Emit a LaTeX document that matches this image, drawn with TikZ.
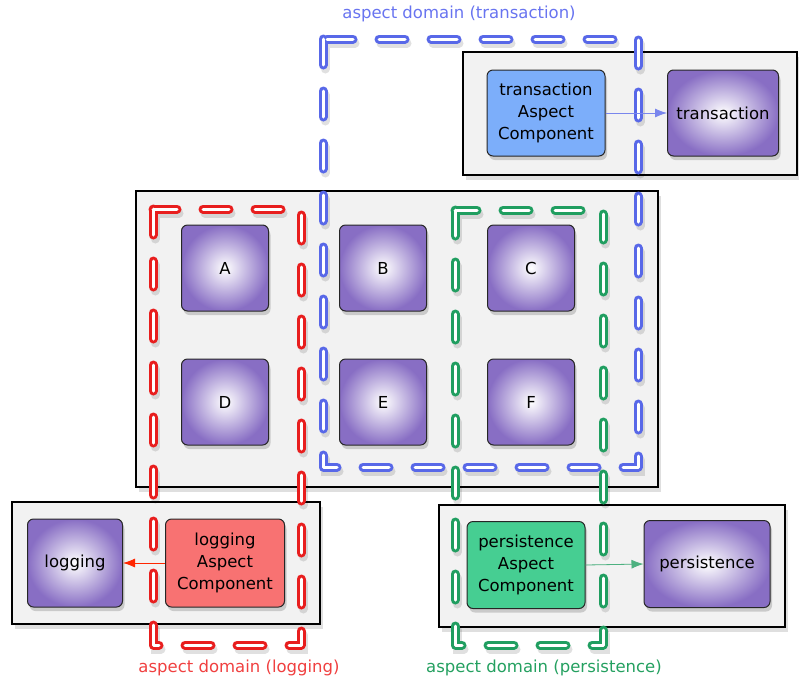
\documentclass[tikz,border=0pt]{standalone}
\usepackage{fontspec}
\setmainfont{DejaVu Sans}
\usetikzlibrary{shadows,arrows.meta}

\definecolor{comppurple}{RGB}{136,110,196}
\definecolor{txblue}{RGB}{124,174,250}
\definecolor{logred}{RGB}{248,114,114}
\definecolor{pergreen}{RGB}{70,206,146}
\definecolor{domblue}{RGB}{88,104,232}
\definecolor{domred}{RGB}{232,30,30}
\definecolor{domgreen}{RGB}{32,158,96}
\definecolor{lblblue}{RGB}{104,116,240}
\definecolor{lblred}{RGB}{240,64,64}
\definecolor{lblgreen}{RGB}{36,160,96}

\tikzset{
  comp/.style={draw=black!85, line width=1pt, rounded corners=6pt,
    minimum width=87pt, minimum height=86pt, shading=radial,
    inner color=white, outer color=comppurple,
    drop shadow={opacity=.35, shadow xshift=2pt, shadow yshift=-4pt}},
  aspectbox/.style={draw=black!85, line width=1pt, rounded corners=6pt,
    minimum width=118pt, minimum height=86pt, align=center,
    drop shadow={opacity=.35, shadow xshift=2pt, shadow yshift=-4pt}},
  layer/.style={draw=black, line width=2.5pt, fill=gray!10,
    drop shadow={opacity=.25, shadow xshift=3pt, shadow yshift=-5pt}},
  aspdomain/.style={line width=3pt, double=white, double distance=3pt,
    dash pattern=on 26pt off 26pt, line cap=round, line join=round},
  domshadow/.style={line width=9pt, draw=black, opacity=.12, line cap=round,
    dash pattern=on 26pt off 26pt, xshift=2pt, yshift=-4pt},
  dep/.style={line width=0.8pt, -{Latex[length=12pt,width=9pt]}},
}

\begin{document}
\fontsize{16.5}{22}\selectfont
\begin{tikzpicture}[x=1pt, y=-1pt]
\useasboundingbox (0,0) rectangle (799,686);

% layers
\draw[layer] (463,52) rectangle (797,175);
\draw[layer] (136,191) rectangle (658,487);
\draw[layer] (12,502) rectangle (320,624);
\draw[layer] (439,505) rectangle (785,627);

% business components
\node[comp] (a) at (225,268) {A};
\node[comp] (b) at (383,268) {B};
\node[comp] (c) at (531,268) {C};
\node[comp] (d) at (225,402) {D};
\node[comp] (e) at (383,402) {E};
\node[comp] (f) at (531,402) {F};

% aspects
\node[aspectbox, fill=txblue] (txasp) at (546,113) {transaction\\Aspect\\Component};
\node[comp, minimum width=111pt] (tx) at (723,113) {transaction};
\node[aspectbox, fill=logred, minimum width=119pt, minimum height=88pt] (logasp) at (225,563) {logging\\Aspect\\Component};
\node[comp, minimum width=95pt, minimum height=88pt] (log) at (75,563) {logging};
\node[aspectbox, fill=pergreen, minimum height=87pt] (perasp) at (526,565) {persistence\\Aspect\\Component};
\node[comp, minimum width=126pt, minimum height=87pt] (per) at (707,564) {persistence};

% aspect domains
\draw[domshadow] (323,39) rectangle (638,467);
\draw[domshadow] (153,209) rectangle (301,645);
\draw[domshadow] (455,210) rectangle (603,645);
\draw[aspdomain, draw=domblue] (323,39) rectangle (638,467);
\draw[aspdomain, draw=domred] (153,209) rectangle (301,645);
\draw[aspdomain, draw=domgreen] (455,210) rectangle (603,645);

\node[text=lblblue] (txlbl) at (459,14) {aspect domain (transaction)};
\node[text=lblred] (loglbl) at (239,668) {aspect domain (logging)};
\node[text=lblgreen] (perlbl) at (544,668) {aspect domain (persistence)};

% dependencies
\draw[dep, draw=domblue!80, fill=domblue!80] (txasp.east) -- (tx.west);
\draw[dep, draw=red!70!orange, fill=red!70!orange] (logasp.west) -- (log.east);
\draw[dep, draw=domgreen!80, fill=domgreen!80] (perasp.east) -- (per.west);
\end{tikzpicture}
\end{document}
